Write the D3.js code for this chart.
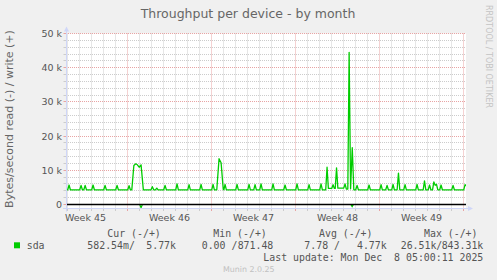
<!DOCTYPE html>
<html>
<head>
<meta charset="utf-8">
<script src="https://cdn.jsdelivr.net/npm/d3@7"></script>
<style>
  body { margin: 0; background: #f0f0f0; }
  svg { display: block; }
  svg text { white-space: pre; }
</style>
</head>
<body>
<div id="chart"></div>
<script>
// time is days since 2025-11-01 00:00, values in bytes/second
const writeSeries = [
    [3.88, 4300],
    [4.02, 4300], [4.13, 5700], [4.24, 4300],
    [5.02, 4300], [5.13, 5600], [5.24, 4300],
    [5.36, 4300], [5.47, 5600], [5.58, 4300],
    [6.02, 4300], [6.13, 5700], [6.24, 4300],
    [7.02, 4300], [7.13, 5600], [7.24, 4300],
    [8.02, 4300], [8.13, 5600], [8.24, 4300],
    [9.02, 4300], [9.13, 5500], [9.24, 4300],
    [9.36, 4300], [9.53, 11400], [9.69, 11900], [9.82, 11600], [9.97, 10900], [10.13, 11600], [10.32, 4300],
    [10.96, 4300], [11.07, 5200], [11.18, 4300],
    [11.33, 4300], [11.44, 4800], [11.55, 4300],
    [12.02, 4300], [12.13, 5600], [12.24, 4300],
    [13.02, 4300], [13.13, 6000], [13.24, 4300],
    [14.02, 4300], [14.13, 5800], [14.24, 4300],
    [15.02, 4300], [15.13, 5900], [15.24, 4300],
    [16.02, 4300], [16.13, 5900], [16.24, 4300],
    [16.44, 4300], [16.63, 13400], [16.80, 12200], [16.98, 4400],
    [17.03, 4300], [17.13, 5900], [17.24, 4300],
    [18.02, 4300], [18.13, 5900], [18.24, 4300],
    [19.02, 4300], [19.13, 5900], [19.24, 4300],
    [19.52, 4300], [19.63, 5800], [19.74, 4300],
    [20.02, 4300], [20.13, 6000], [20.24, 4300],
    [21.02, 4300], [21.13, 6000], [21.24, 4300],
    [22.02, 4300], [22.13, 5700], [22.24, 4300],
    [23.02, 4300], [23.13, 6000], [23.24, 4300],
    [24.02, 4300], [24.13, 5800], [24.24, 4300],
    [25.02, 4300], [25.13, 6000], [25.24, 4300],
    [25.52, 4300], [25.63, 10900], [25.74, 4700],
    [26.02, 4700], [26.13, 5800], [26.24, 4700],
    [26.31, 4700], [26.42, 10700], [26.53, 4800],
    [27.02, 4800], [27.13, 6000], [27.24, 4500],
    [27.36, 4500], [27.47, 44500], [27.59, 4600], [27.73, 16600], [27.86, 4300],
    [28.02, 4300], [28.13, 5600], [28.24, 4300],
    [29.02, 4300], [29.13, 5700], [29.24, 4300],
    [30.02, 4300], [30.13, 5800], [30.24, 4300],
    [30.52, 4300], [30.63, 5600], [30.74, 4300],
    [31.02, 4300], [31.13, 5900], [31.24, 4300],
    [31.47, 4300], [31.58, 9200], [31.69, 4300],
    [32.02, 4300], [32.13, 5800], [32.24, 4300],
    [33.02, 4300], [33.13, 5900], [33.24, 4300],
    [33.64, 4300], [33.75, 6900], [33.86, 4300],
    [34.06, 4300], [34.17, 5700], [34.28, 4300],
    [34.42, 4300], [34.53, 6600], [34.64, 5600], [34.75, 5900], [34.86, 4300],
    [35.02, 4300], [35.13, 5700], [35.24, 4300],
    [36.02, 4300], [36.13, 5600], [36.24, 4300],
    [37.02, 4300], [37.13, 5800], [37.21, 5500]
];
// read is drawn negative
const readSeries = [
    [3.88, 0], [10.02, 0], [10.13, -950], [10.24, 0],
    [27.61, 0], [27.72, -600], [27.83, 0], [37.21, 0]
];

const yTicks = [0, 10000, 20000, 30000, 40000, 50000];
const yTickLabels = ["0", "10 k", "20 k", "30 k", "40 k", "50 k"];
const weekLabels = ["Week 45", "Week 46", "Week 47", "Week 48", "Week 49"];

const legendHeaders = ["Cur (-/+)", "Min (-/+)", "Avg (-/+)", "Max (-/+)"];
const legendRead = ["582.54m", "0.00 ", "7.78 ", "26.51k"];
const legendWrite = ["5.77k", "871.48", "4.77k", "843.31k"];
const lastUpdate = "Last update: Mon Dec  8 05:00:11 2025";

const W = 497, H = 280;
const plot = { left: 66, right: 466, top: 33.5, bottom: 208.5 };
const t0 = Date.UTC(2025, 10, 1);
const toDate = d => new Date(t0 + d * 864e5);
const end = new Date(Date.UTC(2025, 11, 8, 5, 0, 11));
const start = new Date(+end - 400 * 7200 * 1000);

const svg = d3.select("#chart").append("svg")
    .attr("width", W)
    .attr("height", H);

svg.append("rect").attr("width", W).attr("height", H).attr("fill", "#f0f0f0");
svg.append("rect")
    .attr("x", plot.left).attr("y", plot.top)
    .attr("width", plot.right - plot.left).attr("height", plot.bottom - plot.top)
    .attr("fill", "#ffffff");

const x = d3.scaleUtc().domain([start, end]).range([plot.left, plot.right]);
const y = d3.scaleLinear().domain([-1170, 50000]).range([plot.bottom, plot.top]);

const sx = v => Math.floor(x(v)) + 0.5;
const sy = v => Math.round(y(v) - 0.5) + 0.5;

const minorCol = "#cccccc", majorCol = "#e8a4a4";
const grid = svg.append("g").attr("fill", "none").attr("stroke-width", 1);

// vertical grid: days (minor), mondays (major)
const days = d3.utcDay.range(d3.utcDay.ceil(start), end);
days.forEach(d => {
    const major = d.getUTCDay() === 1;
    const gx = sx(d);
    grid.append("line")
        .attr("x1", gx).attr("x2", gx)
        .attr("y1", plot.top).attr("y2", plot.bottom)
        .attr("stroke", major ? majorCol : minorCol)
        .attr("stroke-dasharray", "1,1");
    grid.append("line")
        .attr("x1", gx).attr("x2", gx)
        .attr("y1", plot.bottom).attr("y2", plot.bottom + 2.5)
        .attr("stroke", major ? majorCol : minorCol);
});

// horizontal grid: 2k minor, 10k major
d3.range(0, 50001, 2000).forEach(v => {
    const major = v % 10000 === 0;
    const gy = sy(v);
    grid.append("line")
        .attr("x1", plot.left).attr("x2", plot.right)
        .attr("y1", gy).attr("y2", gy)
        .attr("stroke", major ? majorCol : minorCol)
        .attr("stroke-dasharray", "1,1");
    grid.append("line")
        .attr("x1", plot.left - 2.5).attr("x2", plot.left)
        .attr("y1", gy).attr("y2", gy)
        .attr("stroke", major ? majorCol : minorCol);
});

svg.append("clipPath").attr("id", "clip")
    .append("rect")
    .attr("x", plot.left).attr("y", plot.top - 1)
    .attr("width", plot.right - plot.left).attr("height", plot.bottom - plot.top + 1);

const line = d3.line()
    .x(d => x(toDate(d[0])))
    .y(d => y(d[1]));

const lines = svg.append("g").attr("clip-path", "url(#clip)");

lines.append("path")
    .datum(readSeries)
    .attr("d", line)
    .attr("fill", "none")
    .attr("stroke", "#00cc00")
    .attr("stroke-width", 1.2);

lines.append("path")
    .datum(writeSeries)
    .attr("d", line)
    .attr("fill", "none")
    .attr("stroke", "#00cc00")
    .attr("stroke-width", 1.3)
    .attr("stroke-linejoin", "round");

// zero rule
svg.append("line")
    .attr("x1", plot.left).attr("x2", plot.right)
    .attr("y1", y(0)).attr("y2", y(0))
    .attr("stroke", "#000")
    .attr("stroke-width", 1.3);

// axes with arrows
const axisCol = "#cfd6f8";
svg.append("line")
    .attr("x1", plot.left + 0.5).attr("x2", plot.left + 0.5)
    .attr("y1", plot.bottom + 3).attr("y2", plot.top - 4)
    .attr("stroke", axisCol);
svg.append("path")
    .attr("d", `M${plot.left - 2},${plot.top - 2}L${plot.left + 3},${plot.top - 2}L${plot.left + 0.5},${plot.top - 7}Z`)
    .attr("fill", axisCol);
svg.append("line")
    .attr("x1", plot.left - 3).attr("x2", plot.right + 4)
    .attr("y1", plot.bottom).attr("y2", plot.bottom)
    .attr("stroke", axisCol);
svg.append("path")
    .attr("d", `M${plot.right + 2},${plot.bottom - 2.5}L${plot.right + 2},${plot.bottom + 2.5}L${plot.right + 7},${plot.bottom}Z`)
    .attr("fill", axisCol);

// y tick labels
const yAxis = svg.append("g")
    .attr("transform", `translate(${plot.left - 4},0)`)
    .call(d3.axisLeft(y).tickValues(yTicks).tickFormat((d, i) => yTickLabels[i]).tickSize(0).tickPadding(0));
yAxis.select(".domain").remove();
yAxis.selectAll("text")
    .attr("font-family", "DejaVu Sans")
    .attr("font-size", 9.5)
    .attr("fill", "#555");

// week labels, centered in each week
const mondays = d3.utcMonday.range(d3.utcMonday.floor(start), end);
weekLabels.forEach((lab, i) => {
    svg.append("text")
        .attr("x", x(d3.utcHour.offset(mondays[i], 84)))
        .attr("y", 220.5)
        .attr("text-anchor", "middle")
        .attr("font-family", "DejaVu Sans")
        .attr("font-size", 9.5)
        .attr("fill", "#555")
        .text(lab);
});

svg.append("text")
    .attr("x", 248)
    .attr("y", 18)
    .attr("text-anchor", "middle")
    .attr("font-family", "DejaVu Sans")
    .attr("font-size", 12.5)
    .attr("fill", "#666")
    .text("Throughput per device - by month");

svg.append("text")
    .attr("transform", "translate(13,119) rotate(-90)")
    .attr("text-anchor", "middle")
    .attr("font-family", "DejaVu Sans")
    .attr("font-size", 11)
    .attr("fill", "#666")
    .text("Bytes/second read (-) / write (+)");

svg.append("text")
    .attr("transform", "translate(486,5) rotate(90)")
    .attr("font-family", "DejaVu Sans")
    .attr("font-size", 8)
    .attr("fill", "#c4c4c4")
    .text("RRDTOOL / TOBI OETIKER");

// legend
const mono = "DejaVu Sans Mono";
const legend = svg.append("g")
    .attr("font-family", mono)
    .attr("font-size", 9.9)
    .attr("fill", "#555");

const headerX = [107.3, 213.3, 319, 424];
const readX = [87.3, 201.7, 304.3, 400.7];
const writeEnd = [176, 273.3, 386.7, 483.3];

legendHeaders.forEach((h, i) => {
    legend.append("text").attr("x", headerX[i]).attr("y", 237.3).text(h);
    legend.append("text").attr("x", readX[i]).attr("y", 248.7).text(legendRead[i] + "/");
    legend.append("text").attr("x", writeEnd[i]).attr("y", 248.7)
        .attr("text-anchor", "end").text(legendWrite[i]);
});

legend.append("rect")
    .attr("x", 14).attr("y", 242.3).attr("width", 6).attr("height", 6)
    .attr("fill", "#00cc00");
legend.append("text").attr("x", 26.7).attr("y", 248.7).text("sda");
legend.append("text").attr("x", 483.3).attr("y", 260.7)
    .attr("xml:space", "preserve")
    .attr("text-anchor", "end").text(lastUpdate);

svg.append("text")
    .attr("x", 248.8)
    .attr("y", 271.7)
    .attr("text-anchor", "middle")
    .attr("font-family", "DejaVu Sans")
    .attr("font-size", 7.9)
    .attr("fill", "#c0c0c0")
    .text("Munin 2.0.25");
</script>
</body>
</html>
